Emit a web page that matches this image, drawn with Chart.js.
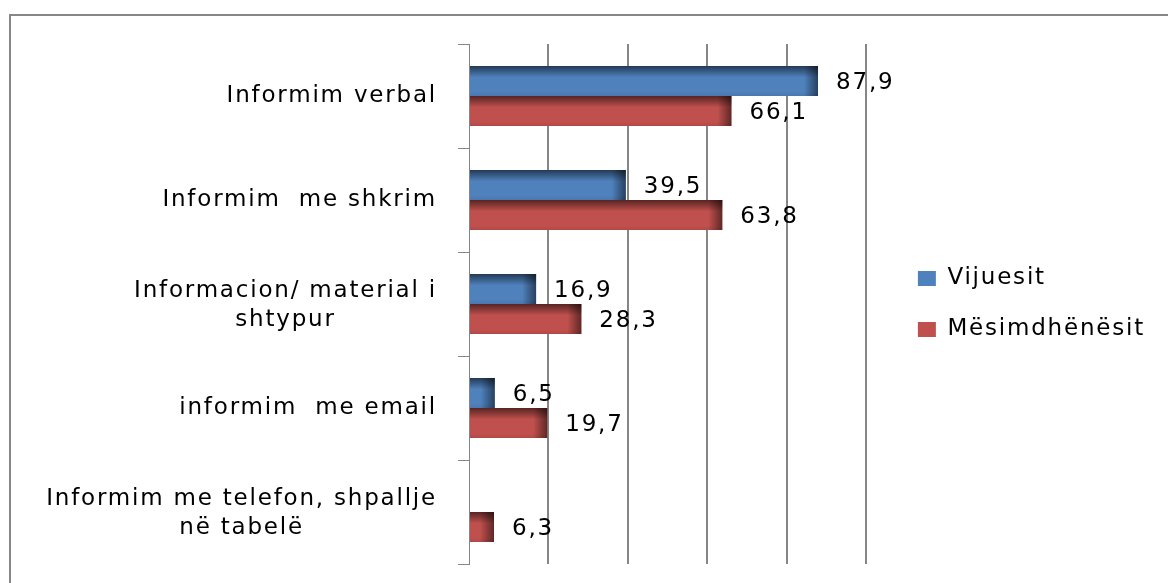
<!DOCTYPE html>
<html><head><meta charset="utf-8">
<script src="https://cdn.jsdelivr.net/npm/chart.js@4.4.1/dist/chart.umd.min.js"></script>
<style>
html,body{margin:0;padding:0;background:#fff;overflow:hidden;width:1168px;height:583px;}
#frame{position:absolute;left:9px;top:14px;width:1220px;height:640px;border:2px solid #878787;box-sizing:border-box;}
#wrap{position:absolute;left:0;top:0;width:1168px;height:583px;}
</style></head><body>
<div id="frame"></div>
<div id="wrap"><canvas id="c" width="1168" height="583"></canvas></div>
<script>
// ---- data ----
const categories = [
  ["Informim verbal"],
  ["Informim  me shkrim"],
  ["Informacion/ material i", "shtypur"],
  ["informim  me email"],
  ["Informim me telefon, shpallje", "në tabelë"]
];
const seriesNames = ["Vijuesit", "Mësimdhënësit"];
const vijuesit = [87.9, 39.5, 16.9, 6.5, null];
const mesimdhenesit = [66.1, 63.8, 28.3, 19.7, 6.3];
const xTicks = [0, 20, 40, 60, 80, 100];

// ---- style ----
const FONT = '"DejaVu Sans", sans-serif';
const FSIZE = 23;
const LS = '1.8px';
const LINE_H = 29;
const X_MAX = 106;
const GRID = '#868686';

const spacingPlugin = {
  id: 'spacing',
  beforeUpdate(chart) { chart.ctx.letterSpacing = LS; },
  beforeLayout(chart) { chart.ctx.letterSpacing = LS; },
  beforeDraw(chart) { chart.ctx.letterSpacing = LS; }
};

const shadePlugin = {
  id: 'shade',
  afterDatasetsDraw(chart) {
    const ctx = chart.ctx;
    ctx.save();
    chart.getSortedVisibleDatasetMetas().forEach(meta => {
      const ds = chart.data.datasets[meta.index];
      meta.data.forEach((bar, i) => {
        const v = ds.data[i];
        if (v == null) return;
        const p = bar.getProps(['x', 'y', 'base', 'height'], true);
        const top = p.y - p.height / 2, left = p.base, right = p.x, h = p.height;
        let g = ctx.createLinearGradient(0, top, 0, top + h);
        g.addColorStop(0, 'rgba(0,0,0,0.55)');
        g.addColorStop(0.38, 'rgba(0,0,0,0)');
        g.addColorStop(0.85, 'rgba(0,0,0,0)');
        g.addColorStop(1, 'rgba(0,0,0,0.08)');
        ctx.fillStyle = g;
        ctx.fillRect(left, top, right - left, h);
        const w = Math.min(14, right - left);
        g = ctx.createLinearGradient(right - w, 0, right, 0);
        g.addColorStop(0, 'rgba(0,0,0,0)');
        g.addColorStop(1, 'rgba(0,0,0,0.5)');
        ctx.fillStyle = g;
        ctx.fillRect(right - w, top, w, h);
      });
    });
    // value labels
    ctx.font = FSIZE + 'px ' + FONT;
    ctx.letterSpacing = LS;
    ctx.fillStyle = '#000';
    ctx.textAlign = 'left';
    ctx.textBaseline = 'middle';
    chart.getSortedVisibleDatasetMetas().forEach(meta => {
      const ds = chart.data.datasets[meta.index];
      meta.data.forEach((bar, i) => {
        const v = ds.data[i];
        if (v == null) return;
        const p = bar.getProps(['x', 'y'], true);
        ctx.fillText(v.toFixed(1).replace('.', ','), p.x + 18, p.y + 2);
      });
    });
    ctx.restore();
  }
};

const yLabelPlugin = {
  id: 'ylabels',
  afterDraw(chart) {
    const ctx = chart.ctx, y = chart.scales.y;
    ctx.save();
    ctx.font = FSIZE + 'px ' + FONT;
    ctx.letterSpacing = LS;
    ctx.fillStyle = '#000';
    ctx.textAlign = 'center';
    ctx.textBaseline = 'middle';
    const right = y.right - 32;
    categories.forEach((lines, i) => {
      const cy = y.getPixelForValue(i) + (lines.length > 1 ? 2 : 0);
      const w = Math.max(...lines.map(l => ctx.measureText(l).width));
      const cx = right - w / 2;
      lines.forEach((l, k) => ctx.fillText(l, cx, cy + (k - (lines.length - 1) / 2) * LINE_H));
    });
    ctx.restore();
  }
};

new Chart(document.getElementById('c'), {
  type: 'bar',
  data: {
    labels: categories,
    datasets: [
      { label: seriesNames[0], data: vijuesit, backgroundColor: '#4F81BD', borderWidth: 0,
        categoryPercentage: 0.577, barPercentage: 1.0 },
      { label: seriesNames[1], data: mesimdhenesit, backgroundColor: '#C0504D', borderWidth: 0,
        categoryPercentage: 0.577, barPercentage: 1.0 }
    ]
  },
  options: {
    indexAxis: 'y',
    responsive: false,
    animation: false,
    devicePixelRatio: 1,
    layout: { padding: { left: 0, top: 44, right: 13, bottom: 19 } },
    scales: {
      x: {
        type: 'linear', min: 0, max: X_MAX, position: 'bottom',
        afterBuildTicks: s => { s.ticks = xTicks.map(v => ({ value: v })); },
        afterFit: s => { s.height = 0; },
        ticks: { display: false },
        border: { display: false },
        grid: {
          drawTicks: false, lineWidth: 2,
          color: c => (c.tick && c.tick.value === 0) ? 'rgba(0,0,0,0)' : GRID
        }
      },
      y: {
        type: 'category',
        afterFit: s => { s.width = 469; },
        ticks: { display: false },
        border: { display: true, color: GRID, width: 1 },
        grid: { offset: true, drawOnChartArea: false, drawTicks: true, tickLength: 11, color: GRID, lineWidth: 1 }
      }
    },
    plugins: {
      legend: {
        position: 'right', align: 'center',
        labels: { font: { family: FONT, size: FSIZE }, color: '#000', boxWidth: 18, boxHeight: 15, padding: 28 }
      },
      tooltip: { enabled: false }
    }
  },
  plugins: [spacingPlugin, shadePlugin, yLabelPlugin]
});
</script>
</body></html>
